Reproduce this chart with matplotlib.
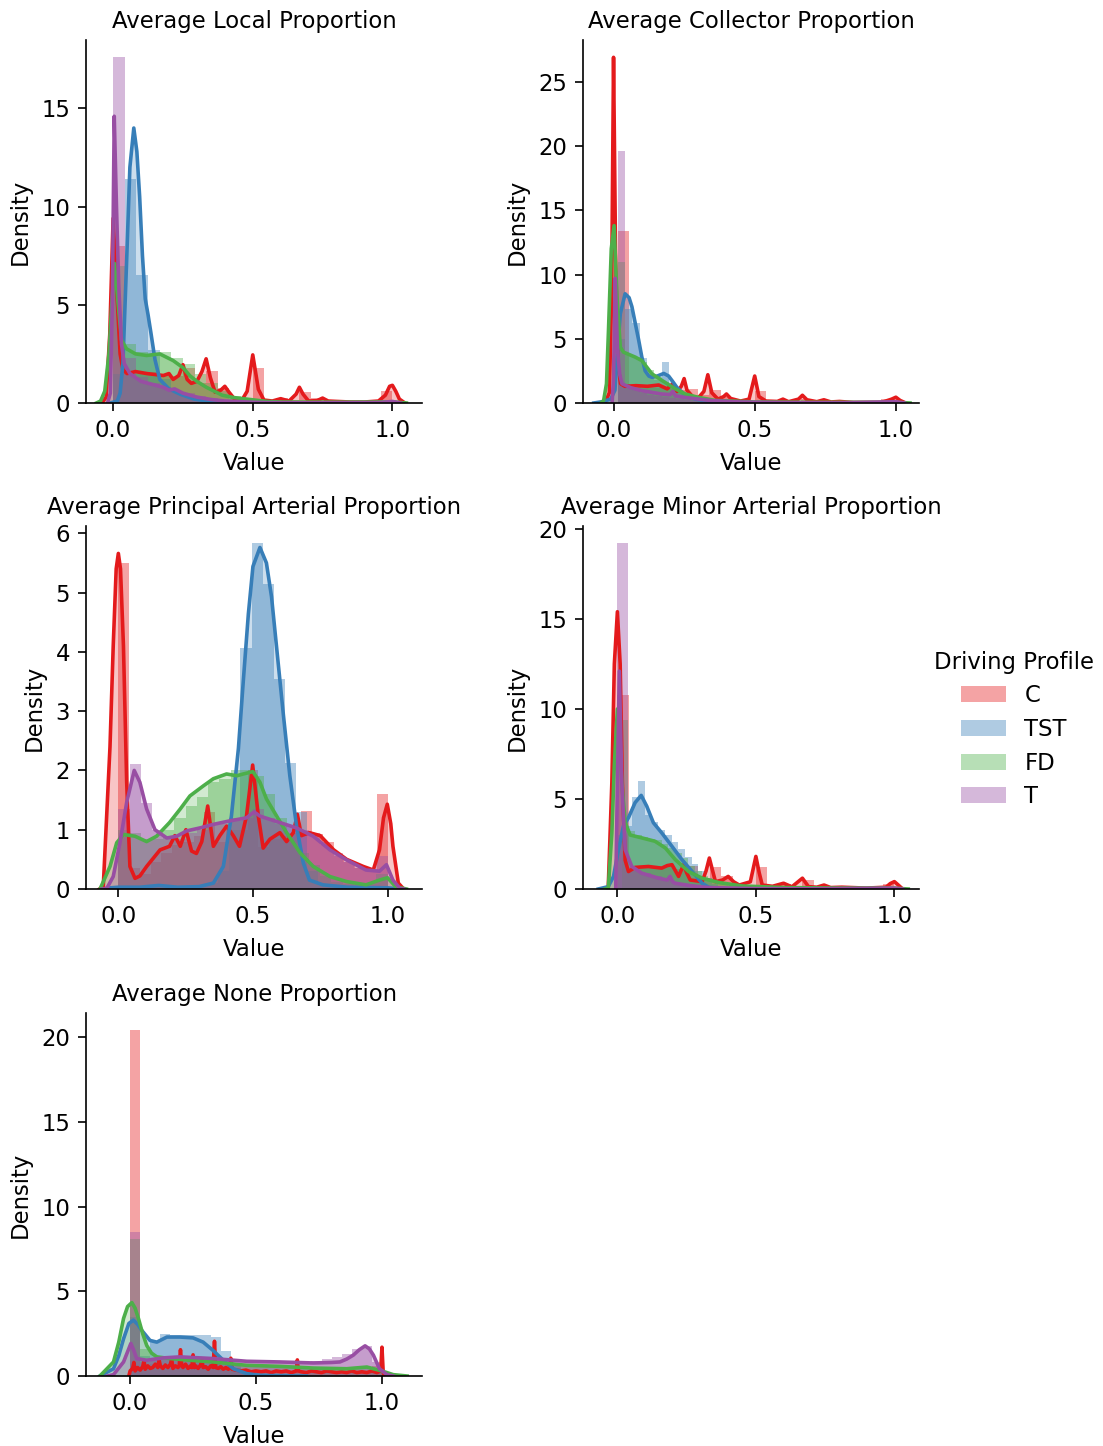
import matplotlib
matplotlib.use("Agg")
import matplotlib.pyplot as plt
from matplotlib.patches import Patch
from matplotlib.ticker import MultipleLocator
import numpy as np

plt.rcParams['font.family'] = ['DejaVu Sans']

groups = ['C', 'TST', 'FD', 'T']
colors = {'C': '#e41a1c', 'TST': '#377eb8', 'FD': '#4daf4a', 'T': '#984ea3'}
titles = ['Average Local Proportion', 'Average Collector Proportion',
          'Average Principal Arterial Proportion', 'Average Minor Arterial Proportion',
          'Average None Proportion']
xticks = [0.0, 0.5, 1.0]
ytick_steps = [5, 5, 1, 5, 5]

# ---------------- Panel 1: Local ----------------
local_hist = {
    'C': (0.0, 1/24, [8.0, 1.5, 1.5, 1.6, 1.5, 1.4, 1.8, 1.0, 1.65, 0.75, 0.2, 0.15, 1.8, 0.15, 0.25, 0.15, 0.58, 0.25, 0.1, 0.05, 0.05, 0.05, 0.05, 0.63]),
    'TST': (0.0, 1/24, [1.5, 11.4, 6.5, 2.7, 1.2, 0.6, 0.35, 0.2, 0.12, 0.06, 0.03, 0.02]),
    'FD': (0.0, 1/24, [7.0, 3.0, 2.6, 2.5, 2.6, 2.3, 2.0, 1.5, 1.0, 0.6, 0.35, 0.2, 0.12, 0.08, 0.06, 0.05, 0.05, 0.04, 0.04, 0.03, 0.03, 0.03, 0.03, 0.05]),
    'T': (0.0, 1/24, [17.6, 2.3, 1.3, 1.0, 0.8, 0.6, 0.5, 0.35, 0.25, 0.15, 0.1, 0.05, 0.1, 0.03, 0.02, 0.02, 0.02, 0.01, 0.01, 0.01, 0.01, 0.01, 0.01, 0.1]),
}
local_kde_C = [(-0.04, 0), (-0.025, 0.3), (-0.012, 3.5), (0.0, 9.4), (0.012, 6.0), (0.025, 2.5), (0.035, 1.7), (0.05, 1.5), (0.08, 1.6), (0.12, 1.5), (0.15, 1.45), (0.18, 1.4), (0.2, 1.5), (0.215, 1.2), (0.235, 1.4), (0.25, 1.95), (0.265, 1.2), (0.28, 1.0), (0.3, 1.1), (0.318, 1.6), (0.333, 2.25), (0.348, 1.3), (0.365, 0.55), (0.385, 0.65), (0.4, 0.85), (0.415, 0.55), (0.435, 0.2), (0.46, 0.12), (0.48, 0.6), (0.5, 2.45), (0.52, 0.7), (0.54, 0.15), (0.57, 0.1), (0.6, 0.22), (0.63, 0.1), (0.655, 0.45), (0.667, 0.8), (0.68, 0.45), (0.7, 0.1), (0.73, 0.12), (0.75, 0.25), (0.77, 0.1), (0.8, 0.08), (0.85, 0.05), (0.9, 0.05), (0.95, 0.1), (0.975, 0.4), (0.99, 0.85), (1.0, 0.9), (1.012, 0.6), (1.025, 0.2), (1.045, 0)]
local_kde_TST = [(-0.01, 0), (0.015, 0.1), (0.025, 0.5), (0.035, 2.0), (0.048, 7.1), (0.06, 12.0), (0.074, 14.0), (0.085, 12.8), (0.095, 10.5), (0.105, 7.5), (0.115, 5.3), (0.125, 4.5), (0.135, 3.6), (0.15, 2.2), (0.167, 1.2), (0.2, 0.72), (0.24, 0.45), (0.29, 0.2), (0.36, 0.05), (0.45, 0.01), (0.55, 0)]
local_kde_FD = [(-0.06, 0), (-0.045, 0.1), (-0.03, 0.6), (-0.015, 2.5), (-0.005, 5.0), (0.005, 7.1), (0.015, 5.5), (0.03, 3.2), (0.048, 2.76), (0.08, 2.5), (0.12, 2.42), (0.167, 2.5), (0.215, 2.16), (0.25, 1.8), (0.274, 1.4), (0.3, 1.1), (0.334, 0.8), (0.39, 0.4), (0.43, 0.28), (0.477, 0.2), (0.55, 0.08), (0.6, 0.05), (0.8, 0.04), (0.95, 0.05), (1.0, 0.06), (1.05, 0)]
local_kde_T = [(-0.02, 0), (-0.01, 0.5), (-0.003, 5.0), (0.004, 14.6), (0.012, 10.0), (0.02, 6.0), (0.03, 3.0), (0.04, 2.0), (0.06, 1.5), (0.1, 1.1), (0.14, 0.95), (0.18, 0.8), (0.2, 0.65), (0.22, 0.72), (0.25, 0.5), (0.3, 0.3), (0.35, 0.18), (0.4, 0.1), (0.5, 0.04), (0.55, 0.02), (0.7, 0.01), (0.95, 0.02), (1.0, 0.08), (1.03, 0)]

# ---------------- Panel 2: Collector ----------------
collector_hist = {
    'C': (0.015, 0.0405, [13.4, 1.3, 1.2, 1.2, 1.1, 1.0, 1.1, 0.6, 1.0, 0.5, 0.2, 0.15, 0.96, 0.15, 0.2, 0.1, 0.35, 0.15, 0.1, 0.05, 0.05, 0.05, 0.05, 0.3]),
    'TST': (0.015, 0.026, [5.0, 7.3, 6.2, 3.5, 2.0, 1.8, 3.2, 1.5, 0.8, 0.4, 0.2, 0.1, 0.05, 0.03]),
    'FD': (0.015, 0.026, [11.0, 3.8, 3.6, 3.2, 2.6, 2.0, 1.6, 1.2, 0.9, 0.6, 0.45, 0.3, 0.2, 0.15, 0.1, 0.08, 0.06, 0.05]),
    'T': (0.015, 0.026, [19.6, 1.4, 1.0, 0.8, 0.65, 0.55, 0.45, 0.4, 0.3, 0.25, 0.18, 0.12, 0.08, 0.05]),
}
collector_kde_C = [(-0.03, 0), (-0.015, 0.8), (-0.007, 8.0), (0.0, 26.9), (0.007, 12.0), (0.015, 3.0), (0.025, 1.5), (0.04, 1.3), (0.08, 1.35), (0.12, 1.3), (0.16, 1.4), (0.19, 1.1), (0.21, 1.5), (0.225, 0.9), (0.24, 1.3), (0.25, 1.9), (0.26, 1.0), (0.28, 0.5), (0.3, 0.4), (0.32, 0.9), (0.334, 2.2), (0.348, 0.8), (0.37, 0.3), (0.39, 0.5), (0.4, 0.7), (0.415, 0.35), (0.45, 0.15), (0.48, 0.3), (0.5, 2.1), (0.515, 0.5), (0.54, 0.15), (0.58, 0.12), (0.6, 0.3), (0.62, 0.1), (0.655, 0.3), (0.669, 0.6), (0.685, 0.25), (0.72, 0.1), (0.745, 0.25), (0.77, 0.08), (0.8, 0.12), (0.85, 0.04), (0.95, 0.05), (0.985, 0.3), (1.0, 0.45), (1.015, 0.2), (1.035, 0)]
collector_kde_TST = [(-0.07, 0), (-0.04, 0.1), (-0.01, 0.3), (0.005, 1.0), (0.012, 3.5), (0.024, 6.95), (0.041, 8.5), (0.055, 8.2), (0.065, 7.5), (0.077, 6.2), (0.089, 4.9), (0.1, 3.6), (0.112, 2.5), (0.125, 2.1), (0.136, 2.0), (0.155, 2.1), (0.178, 2.3), (0.195, 2.1), (0.207, 1.75), (0.225, 1.2), (0.243, 0.83), (0.265, 0.5), (0.29, 0.3), (0.36, 0.05), (0.45, 0)]
collector_kde_FD = [(-0.045, 0), (-0.035, 0.2), (-0.025, 1.5), (-0.018, 5.6), (-0.008, 12.0), (0.002, 13.8), (0.012, 8.3), (0.024, 4.35), (0.035, 3.96), (0.077, 3.57), (0.1, 3.3), (0.136, 2.27), (0.172, 1.75), (0.219, 1.1), (0.254, 0.7), (0.3, 0.44), (0.36, 0.2), (0.5, 0.08), (0.7, 0.05), (1.0, 0.05), (1.05, 0)]
collector_kde_T = [(-0.005, 0), (0.0, 2.0), (0.006, 9.7), (0.014, 4.1), (0.022, 2.2), (0.03, 1.5), (0.06, 1.2), (0.1, 0.96), (0.17, 0.7), (0.2, 0.65), (0.21, 0.9), (0.22, 0.55), (0.25, 0.44), (0.34, 0.2), (0.45, 0.08), (0.6, 0.03), (0.8, 0.01), (1.0, 0.1), (1.03, 0)]

# ---------------- Panel 3: Principal Arterial ----------------
principal_hist = {
    'C': (0.0, 0.04, [5.5, 0.35, 0.25, 0.45, 0.6, 0.75, 0.8, 0.9, 1.3, 0.8, 1.0, 1.0, 2.0, 0.7, 0.85, 0.9, 0.95, 1.32, 0.92, 0.8, 0.55, 0.45, 0.35, 0.3, 1.6]),
    'TST': (0.0, 0.04125, [0.05, 0.03, 0.03, 0.05, 0.03, 0.02, 0.03, 0.05, 0.1, 0.3, 1.2, 4.07, 5.83, 5.15, 3.54, 2.12, 1.3, 0.3, 0.08, 0.04, 0.03, 0.02, 0.02, 0.02]),
    'FD': (0.0, 1/24, [1.0, 0.95, 0.85, 0.85, 1.0, 1.2, 1.4, 1.55, 1.8, 1.85, 2.0, 2.0, 1.9, 1.6, 1.2, 0.95, 0.6, 0.4, 0.22, 0.12, 0.08, 0.06, 0.1, 0.25]),
    'T': (0.0, 1/24, [1.35, 2.1, 1.45, 1.0, 0.87, 0.85, 0.95, 1.0, 1.1, 1.1, 1.15, 1.2, 1.35, 1.2, 1.1, 1.05, 1.0, 0.95, 0.75, 0.6, 0.45, 0.35, 0.3, 0.55]),
}
principal_kde_C = [(-0.07, 0), (-0.056, 0.04), (-0.031, 2.4), (-0.019, 4.1), (-0.008, 5.4), (0.0, 5.66), (0.008, 5.4), (0.019, 4.1), (0.031, 1.8), (0.043, 0.38), (0.062, 0.18), (0.08, 0.22), (0.105, 0.38), (0.13, 0.52), (0.155, 0.66), (0.19, 0.72), (0.21, 0.9), (0.23, 0.72), (0.251, 1.0), (0.272, 0.64), (0.29, 0.6), (0.31, 0.8), (0.332, 1.4), (0.353, 0.72), (0.377, 0.9), (0.402, 1.06), (0.427, 0.9), (0.45, 0.72), (0.476, 1.23), (0.499, 2.09), (0.52, 1.23), (0.538, 0.69), (0.563, 0.84), (0.6, 0.95), (0.625, 0.8), (0.65, 0.95), (0.665, 1.26), (0.68, 0.9), (0.71, 0.95), (0.75, 0.9), (0.8, 0.66), (0.848, 0.5), (0.91, 0.38), (0.947, 0.32), (0.97, 0.66), (0.985, 1.2), (0.999, 1.43), (1.012, 1.1), (1.02, 0.72), (1.04, 0.1), (1.06, 0)]
principal_kde_TST = [(-0.06, 0), (-0.03, 0.02), (0.0, 0.03), (0.08, 0.03), (0.15, 0.06), (0.22, 0.03), (0.3, 0.04), (0.353, 0.1), (0.39, 0.38), (0.42, 1.23), (0.446, 2.37), (0.464, 3.5), (0.483, 4.64), (0.5, 5.44), (0.526, 5.76), (0.55, 5.5), (0.569, 4.93), (0.588, 4.07), (0.613, 2.94), (0.637, 1.91), (0.662, 1.06), (0.687, 0.44), (0.71, 0.15), (0.76, 0.07), (0.85, 0.03), (1.0, 0.02), (1.05, 0)]
principal_kde_FD = [(-0.068, 0), (-0.031, 0.38), (-0.006, 0.78), (0.019, 0.92), (0.062, 0.89), (0.105, 0.8), (0.142, 0.89), (0.19, 1.12), (0.23, 1.35), (0.266, 1.57), (0.316, 1.74), (0.353, 1.86), (0.402, 1.94), (0.44, 1.91), (0.464, 1.94), (0.5, 1.98), (0.526, 1.8), (0.55, 1.52), (0.588, 1.23), (0.625, 0.95), (0.675, 0.61), (0.724, 0.38), (0.786, 0.21), (0.848, 0.125), (0.92, 0.07), (0.97, 0.15), (1.0, 0.19), (1.03, 0.04), (1.07, 0)]
principal_kde_T = [(-0.06, 0), (-0.043, 0.01), (-0.019, 0.21), (0.006, 0.78), (0.031, 1.46), (0.059, 2.0), (0.08, 1.8), (0.105, 1.35), (0.136, 1.0), (0.18, 0.86), (0.217, 0.89), (0.254, 0.98), (0.303, 1.03), (0.353, 1.09), (0.415, 1.15), (0.476, 1.2), (0.504, 1.3), (0.526, 1.23), (0.6, 1.12), (0.662, 1.03), (0.724, 0.89), (0.786, 0.66), (0.848, 0.49), (0.92, 0.32), (0.97, 0.3), (0.996, 0.41), (1.02, 0.15), (1.046, 0.01), (1.06, 0)]

# ---------------- Panel 4: Minor Arterial ----------------
minor_hist = {
    'C': (0.0, 1/24, [10.8, 1.0, 1.2, 1.2, 1.2, 1.1, 1.3, 0.6, 1.2, 0.7, 0.3, 0.2, 1.2, 0.2, 0.25, 0.15, 0.5, 0.15, 0.1, 0.05, 0.05, 0.05, 0.05, 0.3]),
    'TST': (0.004, 0.024, [3.0, 3.5, 5.1, 6.0, 4.1, 3.7, 3.3, 3.0, 2.6, 2.2, 1.8, 1.4, 1.0, 0.6, 0.3, 0.15, 0.08]),
    'FD': (0.016, 0.024, [9.4, 3.2, 3.0, 2.9, 2.8, 2.7, 2.5, 2.3, 2.0, 1.7, 1.3, 1.0, 0.7, 0.5, 0.35, 0.25, 0.15, 0.1, 0.08, 0.05]),
    'T': (0.0, 0.04, [19.2, 1.2, 0.9, 0.7, 0.5, 0.35, 0.25, 0.15, 0.1, 0.06, 0.04, 0.03]),
}
minor_kde_C = [(-0.045, 0), (-0.033, 0.1), (-0.02, 5.9), (-0.011, 12.5), (0.0, 15.4), (0.01, 12.5), (0.018, 5.9), (0.028, 1.6), (0.04, 0.97), (0.064, 1.2), (0.112, 1.25), (0.16, 1.16), (0.18, 1.3), (0.197, 1.35), (0.21, 1.0), (0.221, 0.7), (0.239, 1.35), (0.25, 0.9), (0.263, 0.5), (0.306, 0.41), (0.32, 1.0), (0.332, 1.72), (0.344, 1.0), (0.354, 0.41), (0.38, 0.5), (0.4, 0.7), (0.42, 0.4), (0.44, 0.22), (0.48, 0.4), (0.5, 1.81), (0.512, 0.9), (0.523, 0.22), (0.56, 0.15), (0.6, 0.32), (0.63, 0.12), (0.668, 0.6), (0.69, 0.13), (0.72, 0.1), (0.746, 0.22), (0.77, 0.08), (0.81, 0.1), (0.9, 0.05), (0.97, 0.1), (0.985, 0.3), (1.0, 0.41), (1.012, 0.25), (1.03, 0)]
minor_kde_TST = [(-0.069, 0), (-0.033, 0.13), (-0.014, 0.7), (0.004, 2.19), (0.022, 3.5), (0.04, 3.96), (0.064, 4.8), (0.086, 5.2), (0.106, 4.6), (0.13, 3.68), (0.16, 3.12), (0.197, 2.37), (0.233, 1.63), (0.27, 0.97), (0.306, 0.32), (0.33, 0.09), (0.4, 0)]
minor_kde_FD = [(-0.045, 0), (-0.033, 0.04), (-0.02, 3.1), (-0.011, 6.9), (0.0, 10.0), (0.008, 8.5), (0.016, 5.9), (0.028, 3.7), (0.046, 3.0), (0.088, 2.84), (0.136, 2.65), (0.173, 2.28), (0.209, 1.63), (0.257, 0.97), (0.306, 0.6), (0.366, 0.36), (0.45, 0.17), (0.6, 0.08), (0.8, 0.05), (1.0, 0.05), (1.05, 0)]
minor_kde_T = [(-0.006, 0), (0.0, 5.9), (0.007, 12.1), (0.016, 5.9), (0.028, 2.19), (0.052, 1.25), (0.088, 0.88), (0.149, 0.6), (0.18, 0.5), (0.19, 0.7), (0.2, 0.4), (0.209, 0.32), (0.27, 0.17), (0.33, 0.08), (0.5, 0.02), (0.7, 0.01), (1.0, 0.05), (1.03, 0)]

# ---------------- Panel 5: None ----------------
none_hist = {
    'C': (0.0, 0.04, [20.4, 0.6, 0.7, 0.65, 0.6, 0.55, 0.7, 0.6, 0.8, 0.5, 0.5, 0.35, 0.3, 0.3, 0.25, 0.3, 0.3, 0.25, 0.25, 0.3, 0.25, 0.2, 0.25, 0.3, 0.6]),
    'TST': (0.0, 0.04, [3.5, 1.2, 2.0, 2.5, 2.45, 2.4, 2.4, 2.4, 2.3, 1.5, 0.6, 0.3, 0.1, 0.05]),
    'FD': (0.0, 0.04, [8.1, 1.6, 1.0, 0.95, 0.95, 0.9, 0.9, 0.85, 0.85, 0.8, 0.7, 0.65, 0.6, 0.6, 0.6, 0.55, 0.55, 0.5, 0.5, 0.45, 0.45, 0.45, 0.5, 0.5, 0.35]),
    'T': (0.0, 0.04, [8.5, 0.8, 0.95, 1.0, 1.05, 1.05, 1.0, 1.0, 0.95, 0.9, 0.85, 0.85, 0.85, 0.8, 0.8, 0.8, 0.8, 0.85, 0.9, 1.0, 1.1, 1.3, 1.6, 1.8, 0.8]),
}
none_kde_C = [(-0.005, 0), (0.0, 0.3), (0.01, 0.45), (0.015, 0.8), (0.02, 0.3), (0.03, 0.5), (0.04, 0.35), (0.05, 0.55), (0.055, 0.9), (0.06, 0.4), (0.07, 0.6), (0.08, 0.45), (0.09, 0.5), (0.1, 0.7), (0.11, 0.5), (0.115, 0.95), (0.12, 0.6), (0.13, 0.45), (0.14, 0.65), (0.15, 0.5), (0.16, 0.7), (0.165, 1.0), (0.17, 0.45), (0.18, 0.6), (0.19, 0.5), (0.195, 0.6), (0.2, 1.55), (0.205, 0.6), (0.21, 0.5), (0.22, 0.7), (0.23, 0.45), (0.24, 0.6), (0.245, 0.5), (0.25, 1.25), (0.255, 0.5), (0.26, 0.6), (0.27, 0.45), (0.28, 0.65), (0.285, 0.95), (0.29, 0.5), (0.3, 0.55), (0.31, 0.4), (0.32, 0.6), (0.33, 0.5), (0.335, 2.05), (0.34, 0.5), (0.35, 0.45), (0.36, 0.55), (0.37, 0.4), (0.38, 0.5), (0.39, 0.4), (0.395, 0.5), (0.4, 1.05), (0.405, 0.4), (0.42, 0.35), (0.44, 0.3), (0.46, 0.35), (0.48, 0.25), (0.5, 0.3), (0.52, 0.25), (0.54, 0.3), (0.56, 0.2), (0.58, 0.3), (0.6, 0.25), (0.62, 0.3), (0.64, 0.2), (0.66, 0.3), (0.664, 0.95), (0.668, 0.3), (0.68, 0.25), (0.7, 0.2), (0.72, 0.3), (0.74, 0.25), (0.76, 0.2), (0.78, 0.3), (0.8, 0.25), (0.82, 0.2), (0.84, 0.25), (0.86, 0.2), (0.88, 0.3), (0.9, 0.2), (0.92, 0.25), (0.94, 0.2), (0.96, 0.3), (0.98, 0.2), (0.995, 0.3), (1.0, 1.7), (1.005, 0.2), (1.01, 0)]
none_kde_TST = [(-0.12, 0), (-0.066, 0.43), (-0.045, 1.2), (-0.026, 2.2), (-0.005, 3.1), (0.013, 3.3), (0.03, 3.05), (0.046, 2.7), (0.079, 2.1), (0.106, 2.0), (0.146, 2.3), (0.198, 2.3), (0.25, 2.25), (0.29, 2.0), (0.33, 1.5), (0.37, 0.93), (0.41, 0.43), (0.463, 0.14), (0.516, 0.04), (0.6, 0.01), (0.7, 0)]
none_kde_FD = [(-0.12, 0), (-0.066, 0.83), (-0.045, 2.0), (-0.026, 3.4), (-0.01, 4.1), (0.007, 4.33), (0.02, 4.0), (0.033, 3.4), (0.05, 2.5), (0.066, 1.8), (0.085, 1.35), (0.106, 1.13), (0.159, 1.03), (0.238, 0.93), (0.33, 0.83), (0.463, 0.63), (0.595, 0.57), (0.728, 0.47), (0.86, 0.43), (0.94, 0.53), (0.99, 0.34), (1.02, 0.2), (1.045, 0.08), (1.1, 0)]
none_kde_T = [(-0.09, 0), (-0.066, 0.08), (-0.026, 0.83), (0.003, 1.92), (0.015, 1.5), (0.026, 1.03), (0.066, 0.93), (0.132, 1.07), (0.198, 1.13), (0.33, 1.03), (0.463, 0.87), (0.595, 0.83), (0.728, 0.77), (0.8, 0.8), (0.833, 0.83), (0.86, 1.0), (0.886, 1.23), (0.91, 1.55), (0.933, 1.78), (0.95, 1.6), (0.966, 1.23), (0.99, 0.43), (1.02, 0.08), (1.045, 0)]

panels = [
    (local_hist, {'C': local_kde_C, 'TST': local_kde_TST, 'FD': local_kde_FD, 'T': local_kde_T}),
    (collector_hist, {'C': collector_kde_C, 'TST': collector_kde_TST, 'FD': collector_kde_FD, 'T': collector_kde_T}),
    (principal_hist, {'C': principal_kde_C, 'TST': principal_kde_TST, 'FD': principal_kde_FD, 'T': principal_kde_T}),
    (minor_hist, {'C': minor_kde_C, 'TST': minor_kde_TST, 'FD': minor_kde_FD, 'T': minor_kde_T}),
    (none_hist, {'C': none_kde_C, 'TST': none_kde_TST, 'FD': none_kde_FD, 'T': none_kde_T}),
]

# layout (figure fractions) and x-limits
rects = [
    (0.0780, 0.7213, 0.3046, 0.2510),
    (0.5286, 0.7213, 0.3046, 0.2510),
    (0.0780, 0.3852, 0.3046, 0.2510),
    (0.5286, 0.3852, 0.3046, 0.2510),
    (0.0780, 0.0484, 0.3046, 0.2510),
]
xlims = [(-0.097, 1.106), (-0.108, 1.082), (-0.12, 1.128), (-0.124, 1.089), (-0.175, 1.159)]

FS = 16.4
LW_SPINE = 1.2
LW_KDE = 2.6

fig = plt.figure(figsize=(11.03, 14.46), dpi=100)

for i, (hists, kdes) in enumerate(panels):
    ax = fig.add_axes(rects[i])
    ymax = 0
    for g in groups:
        start, width, h = hists[g]
        left = start + width * np.arange(len(h))
        ax.bar(left, h, width=width, align='edge', color=colors[g], alpha=0.4, linewidth=0)
        pts = np.array(kdes[g], dtype=float)
        ax.fill_between(pts[:, 0], pts[:, 1], color=colors[g], alpha=0.25, linewidth=0)
        ax.plot(pts[:, 0], pts[:, 1], color=colors[g], lw=LW_KDE)
        ymax = max(ymax, max(h), pts[:, 1].max())
    ax.set_xlim(*xlims[i])
    ax.set_ylim(0, ymax * 1.05)
    ax.set_xticks(xticks)
    ax.set_xticklabels(['0.0', '0.5', '1.0'])
    ax.yaxis.set_major_locator(MultipleLocator(ytick_steps[i]))
    ax.set_title(titles[i], fontsize=FS, pad=8.7)
    ax.set_xlabel('Value', fontsize=FS, labelpad=7)
    ax.set_ylabel('Density', fontsize=FS, labelpad=7)
    ax.tick_params(labelsize=FS, length=5.5, width=LW_SPINE, pad=6)
    for s in ['top', 'right']:
        ax.spines[s].set_visible(False)
    for s in ['left', 'bottom']:
        ax.spines[s].set_linewidth(LW_SPINE)

handles = [Patch(facecolor=colors[g], alpha=0.4, edgecolor='none') for g in groups]
fig.legend(handles, groups, title='Driving Profile', frameon=False, loc='center',
           bbox_to_anchor=(0.919, 0.4955), fontsize=FS, title_fontsize=FS,
           labelspacing=0.47)

fig.savefig('out.png', dpi=100)
